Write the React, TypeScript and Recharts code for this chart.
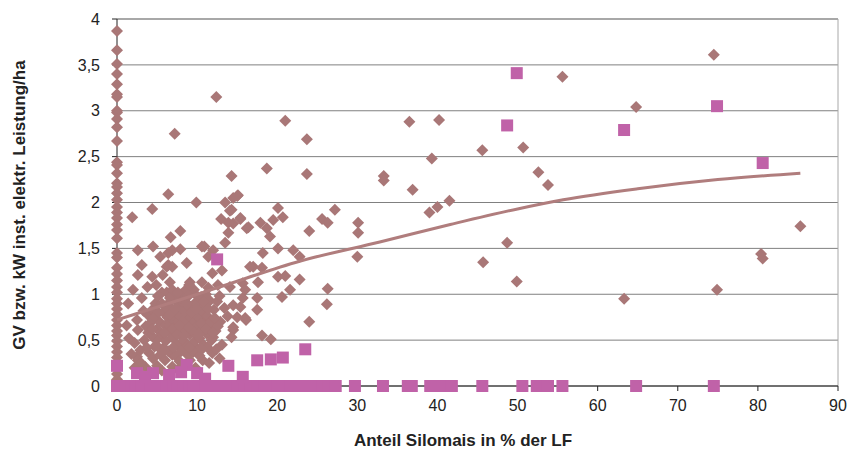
import { ScatterChart, Scatter, XAxis, YAxis, CartesianGrid, ReferenceLine } from "recharts";

// Betriebe: Anteil Silomais (x) gegen GV/ha bzw. kW/ha (y)
const gvColumnAtZero: number[] = [
  3.87, 3.66, 3.51, 3.4, 3.29, 3.18, 3.15, 3.0, 2.98, 2.91, 2.82, 2.67, 2.44, 2.41,
  2.32, 2.21, 2.17, 2.1, 2.03, 1.95, 1.89, 1.83, 1.76, 1.7, 1.61, 1.45, 1.4, 1.29,
  1.22, 1.15, 1.08, 1.02, 0.95, 0.9, 0.84, 0.78, 0.72, 0.66, 0.6, 0.55, 0.49, 0.43,
  0.37, 0.31, 0.25, 0.19, 0.13, 0.07, 0.02,
];

const gvScattered: [number, number][] = [
  [12.4, 3.15], [7.2, 2.75], [21.0, 2.89], [23.7, 2.69], [18.7, 2.37], [23.7, 2.31],
  [14.3, 2.29], [33.3, 2.29], [33.3, 2.24], [15.1, 2.08], [14.5, 2.05], [15.0, 2.07],
  [6.4, 2.09], [9.9, 2.0], [13.5, 2.0], [14.1, 1.91], [14.3, 1.92], [20.1, 1.94],
  [20.7, 1.84], [19.5, 1.81], [15.4, 1.83], [14.5, 1.77], [16.2, 1.72], [17.9, 1.78],
  [18.7, 1.72], [27.2, 1.92], [25.6, 1.82], [26.3, 1.78], [30.1, 1.78], [30.1, 1.67],
  [24.0, 1.69], [19.1, 1.63], [18.2, 1.45], [20.1, 1.5], [22.0, 1.48], [22.8, 1.41],
  [30.0, 1.41], [17.0, 1.3], [18.1, 1.29], [20.1, 1.19], [21.0, 1.2], [22.8, 1.16],
  [26.3, 1.06], [21.6, 1.05], [15.7, 1.12], [17.6, 1.13], [20.6, 0.97], [26.2, 0.89],
  [24.0, 0.7], [16.1, 0.72], [18.1, 0.55], [19.2, 0.51], [14.5, 0.61], [14.3, 0.53],
  [17.5, 0.83], [17.5, 0.96], [15.7, 0.96], [14.5, 0.88],
  [55.6, 3.37], [36.5, 2.88], [40.2, 2.9], [39.3, 2.48], [45.6, 2.57], [50.7, 2.6],
  [36.9, 2.14], [52.6, 2.33], [53.8, 2.19], [41.5, 2.02], [40.0, 1.95], [39.0, 1.89],
  [48.7, 1.56], [45.7, 1.35], [49.9, 1.14], [63.3, 0.95], [74.9, 1.05], [80.4, 1.44],
  [80.6, 1.39], [85.3, 1.74], [74.5, 3.61], [64.8, 3.04],
  [1.9, 1.84], [4.4, 1.93], [7.9, 1.69], [6.7, 1.62], [13.0, 1.82], [13.9, 1.78],
  [15.4, 1.82], [16.4, 1.73], [13.9, 1.67], [13.5, 1.56], [2.6, 1.48], [4.5, 1.52],
  [7.9, 1.49], [10.6, 1.52], [10.9, 1.52], [12.0, 1.48], [5.4, 1.41], [6.4, 1.45],
  [6.9, 1.48], [8.7, 1.34], [11.4, 1.41], [3.1, 1.32], [6.4, 1.32], [6.9, 1.3],
  [4.4, 1.19], [2.6, 1.21], [5.7, 1.21], [6.2, 1.3], [6.6, 1.13], [9.1, 1.13],
  [10.6, 1.13], [11.9, 1.23], [12.6, 1.1], [14.1, 1.08], [13.1, 1.26], [16.6, 1.3],
  [11.4, 1.07],
  [1.4, 0.9], [1.2, 0.66], [2.5, 0.72], [2.6, 0.61], [2.2, 0.47], [2.9, 0.39],
  [2.5, 0.32], [3.9, 0.58], [3.9, 0.77], [3.1, 0.96], [4.4, 0.83], [3.5, 0.21],
  [2.6, 0.28],
  [15.4, 0.86], [16.0, 1.05], [16.0, 0.74], [14.5, 0.64], [15.0, 0.75], [12.9, 0.7],
  [13.1, 0.45], [11.9, 0.36], [10.7, 0.28], [9.1, 0.28], [8.5, 0.21], [6.9, 0.21],
  [5.6, 0.17], [6.9, 0.34], [5.7, 0.41], [4.7, 0.43], [8.1, 0.41], [10.0, 0.41],
  [12.0, 0.53],
];

const gvCluster: [number, number][] = [
  [5.0, 0.62], [5.3, 0.7], [5.5, 0.55], [5.8, 0.8], [6.0, 0.66], [6.1, 0.49], [6.3, 0.75],
  [6.4, 0.9], [6.5, 0.58], [6.7, 0.68], [6.8, 0.84], [7.0, 0.52], [7.1, 0.72], [7.2, 0.95],
  [7.3, 0.62], [7.4, 0.8], [7.5, 0.45], [7.6, 0.7], [7.7, 0.88], [7.8, 0.57], [7.9, 0.76],
  [8.0, 1.0], [8.1, 0.65], [8.2, 0.84], [8.3, 0.5], [8.4, 0.72], [8.5, 0.92], [8.6, 0.6],
  [8.7, 0.79], [8.8, 0.44], [8.9, 0.68], [9.0, 0.87], [9.1, 0.56], [9.2, 0.75], [9.3, 1.02],
  [9.4, 0.63], [9.5, 0.82], [9.6, 0.48], [9.7, 0.7], [9.8, 0.91], [9.9, 0.58], [10.0, 0.77],
  [10.1, 0.66], [10.2, 0.86], [10.3, 0.52], [10.4, 0.73], [10.5, 0.97], [10.6, 0.61],
  [10.7, 0.81], [10.8, 0.45], [10.9, 0.69], [11.0, 0.88], [11.2, 0.57], [11.3, 0.76],
  [11.5, 0.64], [11.6, 0.93], [11.8, 0.5], [11.9, 0.71], [12.1, 0.83], [12.3, 0.6],
  [12.5, 0.92], [4.6, 0.74], [4.8, 0.9], [5.1, 0.98], [5.6, 1.02], [4.9, 0.5], [5.2, 0.42],
  [6.2, 1.02], [6.9, 1.05], [7.6, 1.02], [8.6, 1.05], [9.6, 1.05], [3.6, 0.65], [4.1, 0.68],
  [4.3, 0.55], [3.4, 0.5], [4.0, 0.36], [4.5, 0.3], [5.4, 0.34], [6.0, 0.28], [6.4, 0.38],
  [7.3, 0.33], [7.8, 0.27], [8.8, 0.34], [9.5, 0.37], [10.3, 0.33], [11.3, 0.42],
  [12.4, 0.4], [3.0, 0.25], [3.7, 0.42], [2.2, 0.2], [1.8, 0.35], [1.5, 0.52], [3.3, 0.82],
  [2.0, 1.05], [3.8, 1.08], [4.9, 1.1], [12.8, 0.98], [13.4, 0.85], [13.8, 0.76],
  [12.6, 0.65], [11.1, 1.0], [9.0, 1.1],
  [5.2, 0.8], [5.6, 0.9], [5.9, 0.58], [6.2, 0.85], [6.6, 0.78], [6.9, 0.62], [7.2, 0.84],
  [7.5, 0.56], [7.8, 0.66], [8.1, 0.92], [8.4, 0.55], [8.7, 0.9], [9.0, 0.64], [9.3, 0.8],
  [9.6, 0.58], [9.9, 0.84], [10.2, 0.56], [10.5, 0.68], [10.8, 0.92], [11.1, 0.62],
  [11.4, 0.84], [11.7, 0.7], [12.0, 0.58], [6.0, 0.4], [7.0, 0.42], [8.0, 0.38],
  [9.0, 0.42], [10.6, 0.4], [5.0, 0.22], [7.6, 0.18], [9.8, 0.2], [11.5, 0.25], [4.2, 0.15],
  [12.8, 0.3], [6.6, 0.96], [8.9, 0.98], [10.0, 0.98], [4.4, 0.62], [12.2, 0.74],
];

// Biogasanlagen: kW inst. elektr. Leistung/ha
const kwRaised: [number, number][] = [
  [49.9, 3.41], [48.7, 2.84], [63.3, 2.79], [74.9, 3.05], [80.6, 2.43], [12.5, 1.38],
  [23.5, 0.4], [20.7, 0.31], [19.2, 0.29], [17.5, 0.28], [15.7, 0.1], [13.9, 0.22],
  [0, 0.22], [8.7, 0.23], [2.5, 0.14], [4.5, 0.14], [10, 0.14], [6.5, 0.12], [8, 0.15],
  [3.5, 0.1], [11, 0.08],
];

const kwZeroX: number[] = [
  0, 0.4, 1, 1.8, 2.3, 3, 3.6, 4.2, 5, 5.5, 6.2, 7, 7.6, 8.3, 9, 9.6, 10.4, 11, 11.8,
  12.6, 13.4, 14.2, 15, 15.9, 16.7, 17.5, 18.4, 19.3, 20, 20.8, 21.6, 22.4, 23.2, 24,
  24.8, 25.6, 26.4, 27.3, 29.7, 33.2, 36.3, 36.8, 39.1, 39.9, 41.3, 41.8, 45.6, 50.6,
  52.4, 53.8, 55.6, 64.8, 74.5,
];

// Trendlinie
const trendX = [0, 5, 12.5, 22.8, 32.8, 41.6, 50, 55.7, 65, 75, 85.3];
const trendY = [0.72, 0.86, 1.07, 1.36, 1.57, 1.76, 1.93, 2.03, 2.15, 2.25, 2.32];

const xTicks = [0, 10, 20, 30, 40, 50, 60, 70, 80, 90];
const yTicks = [0, 0.5, 1, 1.5, 2, 2.5, 3, 3.5, 4];

const DIAMOND = "#a97777";
const SQUARE = "#c062a8";
const TREND = "#b07d7d";
const FONT = "'Liberation Sans', Arial, sans-serif";

const gvData = [
  ...gvColumnAtZero.map((y) => ({ x: 0, y })),
  ...gvScattered.map(([x, y]) => ({ x, y })),
  ...gvCluster.map(([x, y]) => ({ x, y })),
];
const kwData = [
  ...kwZeroX.map((x) => ({ x, y: 0 })),
  ...kwRaised.map(([x, y]) => ({ x, y })),
];
const trendData = trendX.map((x, i) => ({ x, y: trendY[i] }));

function Diamond(props: any) {
  const { cx, cy } = props;
  if (cx == null || cy == null) return null;
  const r = 6;
  return <path d={`M${cx},${cy - r}L${cx + r},${cy}L${cx},${cy + r}L${cx - r},${cy}Z`} fill={DIAMOND} />;
}

function Square(props: any) {
  const { cx, cy } = props;
  if (cx == null || cy == null) return null;
  return <rect x={cx - 6} y={cy - 6} width={12} height={12} fill={SQUARE} />;
}

const fmt = (v: number) => String(v).replace(".", ",");

export default function App() {
  return (
    <div style={{ position: "absolute", left: 0, top: 0, width: 848, height: 455, background: "#fff", fontFamily: FONT }}>
      <ScatterChart width={848} height={455} margin={{ top: 19, right: 10, bottom: 39, left: 0 }}>
        <CartesianGrid vertical={false} stroke="#808080" strokeWidth={1} />
        <ReferenceLine x={90} stroke="#a8a8a8" />
        <ReferenceLine y={4} stroke="#a8a8a8" strokeWidth={2} />
        <XAxis
          dataKey="x"
          type="number"
          domain={[0, 90]}
          ticks={xTicks}
          height={30}
          axisLine={{ stroke: "#222" }}
          tickLine={{ stroke: "#222" }}
          tickSize={5}
          tickMargin={9}
          tick={{ fill: "#222", fontSize: 16, fontFamily: FONT }}
        />
        <YAxis
          dataKey="y"
          type="number"
          domain={[0, 4]}
          ticks={yTicks}
          width={117}
          axisLine={{ stroke: "#222" }}
          tickLine={{ stroke: "#222" }}
          tickSize={5}
          tickMargin={12}
          tickFormatter={fmt}
          tick={{ fill: "#222", fontSize: 16, fontFamily: FONT }}
        />
        <Scatter data={gvData} shape={Diamond} isAnimationActive={false} />
        <Scatter data={kwData} shape={Square} isAnimationActive={false} />
        <Scatter
          data={trendData}
          shape={() => <g />}
          line={{ stroke: TREND, strokeWidth: 3 }}
          lineJointType="monotoneX"
          isAnimationActive={false}
        />
      </ScatterChart>
      <div
        style={{
          position: "absolute",
          left: 20,
          top: 205,
          transform: "translate(-50%, -50%) rotate(-90deg)",
          whiteSpace: "nowrap",
          fontWeight: "bold",
          fontSize: 17,
          color: "#222",
        }}
      >
        GV bzw. kW inst. elektr. Leistung/ha
      </div>
      <div
        style={{
          position: "absolute",
          left: 463,
          top: 441,
          transform: "translate(-50%, -50%)",
          whiteSpace: "nowrap",
          fontWeight: "bold",
          fontSize: 17,
          color: "#222",
        }}
      >
        Anteil Silomais in % der LF
      </div>
    </div>
  );
}
